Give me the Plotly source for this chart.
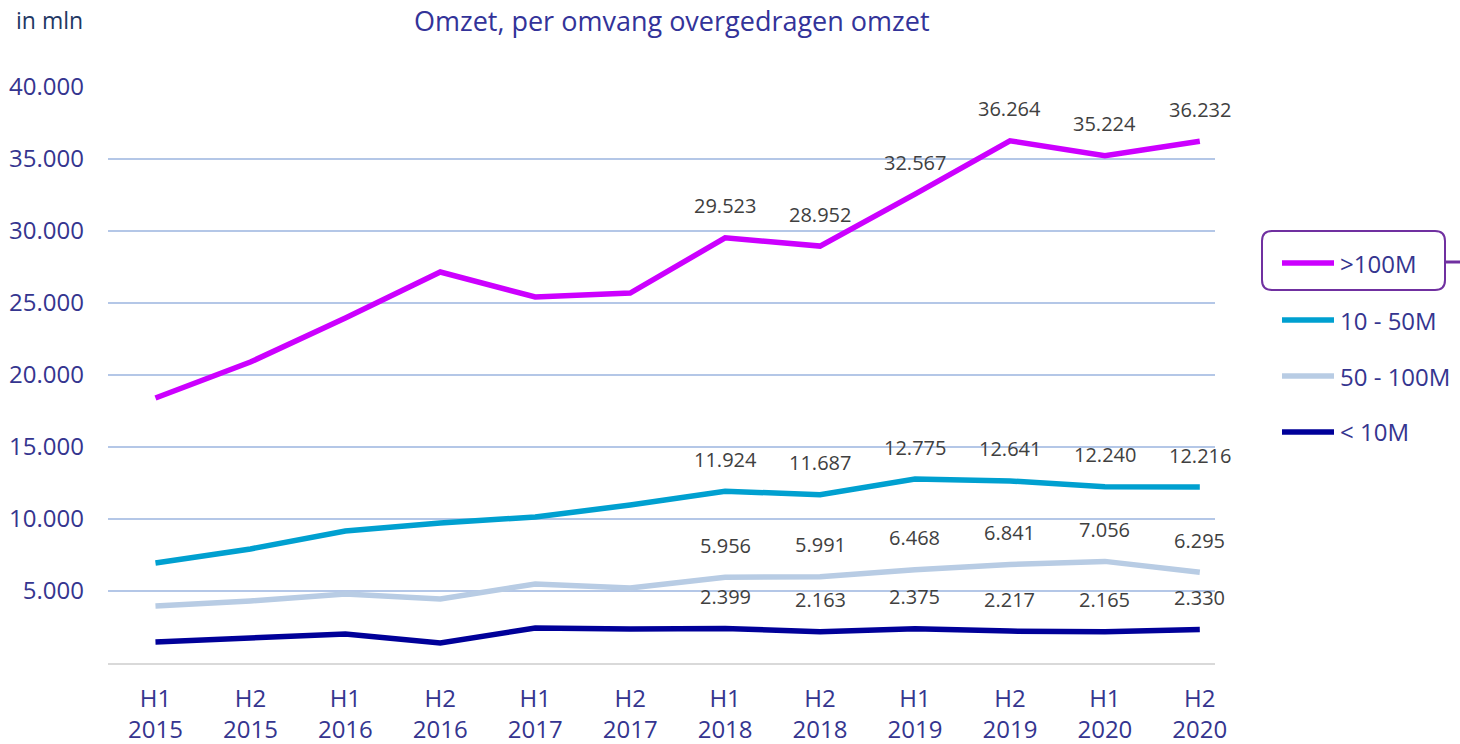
import plotly.graph_objects as go

categories = ["H1<br>2015", "H2<br>2015", "H1<br>2016", "H2<br>2016", "H1<br>2017", "H2<br>2017",
              "H1<br>2018", "H2<br>2018", "H1<br>2019", "H2<br>2019", "H1<br>2020", "H2<br>2020"]
series_names = [">100M", "10 - 50M", "50 - 100M", "< 10M"]
gt100 = [18400, 20900, 23950, 27150, 25420, 25690, 29523, 28952, 32567, 36264, 35224, 36232]
m10_50 = [6940, 7920, 9170, 9720, 10140, 10970, 11924, 11687, 12775, 12641, 12240, 12216]
m50_100 = [3960, 4310, 4790, 4440, 5490, 5210, 5956, 5991, 6468, 6841, 7056, 6295]
lt10 = [1460, 1740, 2010, 1390, 2430, 2360, 2399, 2163, 2375, 2217, 2165, 2330]
y_ticks = [5000, 10000, 15000, 20000, 25000, 30000, 35000, 40000]
label_from = 6

series = [gt100, m10_50, m50_100, lt10]
colors = ["#CC00FF", "#00A0D0", "#B8CCE4", "#000099"]

FONT = "Open Sans"
TXT = "#35358F"

fig = go.Figure()
for name, vals, col in zip(series_names, series, colors):
    fig.add_trace(go.Scatter(x=categories, y=vals, name=name, mode="lines",
                             line=dict(color=col, width=5.5), showlegend=False))

annotations = []
for vals in series:
    for i in range(label_from, len(categories)):
        annotations.append(dict(x=categories[i], y=vals[i], xref="x", yref="y",
                                text=f"{vals[i]:,}".replace(",", "."), showarrow=False,
                                yshift=32, font=dict(family=FONT, size=20, color="#404040")))

# pixel -> paper helpers (plot area: x 108..1215, y 87..663)
def px(x):
    return (x - 108) / 1107

def py(y):
    return (663 - y) / 576

shapes = []
rows = [263, 320, 376, 432]
for name, col, yy in zip(series_names, colors, rows):
    shapes.append(dict(type="line", xref="paper", yref="paper", x0=px(1282), x1=px(1334),
                       y0=py(yy), y1=py(yy), line=dict(color=col, width=5.5)))
    annotations.append(dict(x=px(1338), y=py(yy), xref="paper", yref="paper", text=name,
                            showarrow=False, xanchor="left", yanchor="middle",
                            font=dict(family=FONT, size=24, color=TXT)))

# rounded selection box around first legend entry
x0, x1, y0, y1, r = 1262, 1445, 231, 290, 10
path = (f"M {px(x0 + r)} {py(y0)} L {px(x1 - r)} {py(y0)} "
        f"Q {px(x1)} {py(y0)} {px(x1)} {py(y0 + r)} L {px(x1)} {py(y1 - r)} "
        f"Q {px(x1)} {py(y1)} {px(x1 - r)} {py(y1)} L {px(x0 + r)} {py(y1)} "
        f"Q {px(x0)} {py(y1)} {px(x0)} {py(y1 - r)} L {px(x0)} {py(y0 + r)} "
        f"Q {px(x0)} {py(y0)} {px(x0 + r)} {py(y0)} Z")
shapes.append(dict(type="path", xref="paper", yref="paper", path=path,
                   line=dict(color="#7030A0", width=2)))
shapes.append(dict(type="line", xref="paper", yref="paper", x0=px(1446), x1=px(1460),
                   y0=py(262), y1=py(262), line=dict(color="#7030A0", width=3)))

annotations.append(dict(xref="paper", yref="paper", x=px(14), y=py(20),
                        xanchor="left", yanchor="middle", showarrow=False, text="in mln",
                        font=dict(family=FONT, size=23, color="#1F3864")))
annotations.append(dict(xref="paper", yref="paper", x=px(672), y=py(20),
                        xanchor="center", yanchor="middle", showarrow=False,
                        text="Omzet, per omvang overgedragen omzet",
                        font=dict(family=FONT, size=27, color="#333399")))

fig.update_layout(
    width=1460, height=744,
    margin=dict(l=108, r=245, t=87, b=81),
    paper_bgcolor="white", plot_bgcolor="white",
    separators=",.",
    xaxis=dict(type="category", range=[-0.5, 11.16], showgrid=False, showline=True,
               linecolor="#D9D9D9", linewidth=2, ticks="", ticklabelstandoff=13,
               automargin=False, tickfont=dict(family=FONT, size=24, color=TXT)),
    yaxis=dict(range=[0, 40000], tickvals=y_ticks, tickformat=",.0f", showgrid=True,
               gridcolor="#B4C7E7", gridwidth=2, zeroline=False, ticks="", automargin=False,
               tickfont=dict(family=FONT, size=24, color=TXT), ticklabelstandoff=23),
    annotations=annotations, shapes=shapes,
    showlegend=False,
)

fig.write_html("out.html", config={"displayModeBar": False},
               post_script="document.body.style.margin='0px';")
